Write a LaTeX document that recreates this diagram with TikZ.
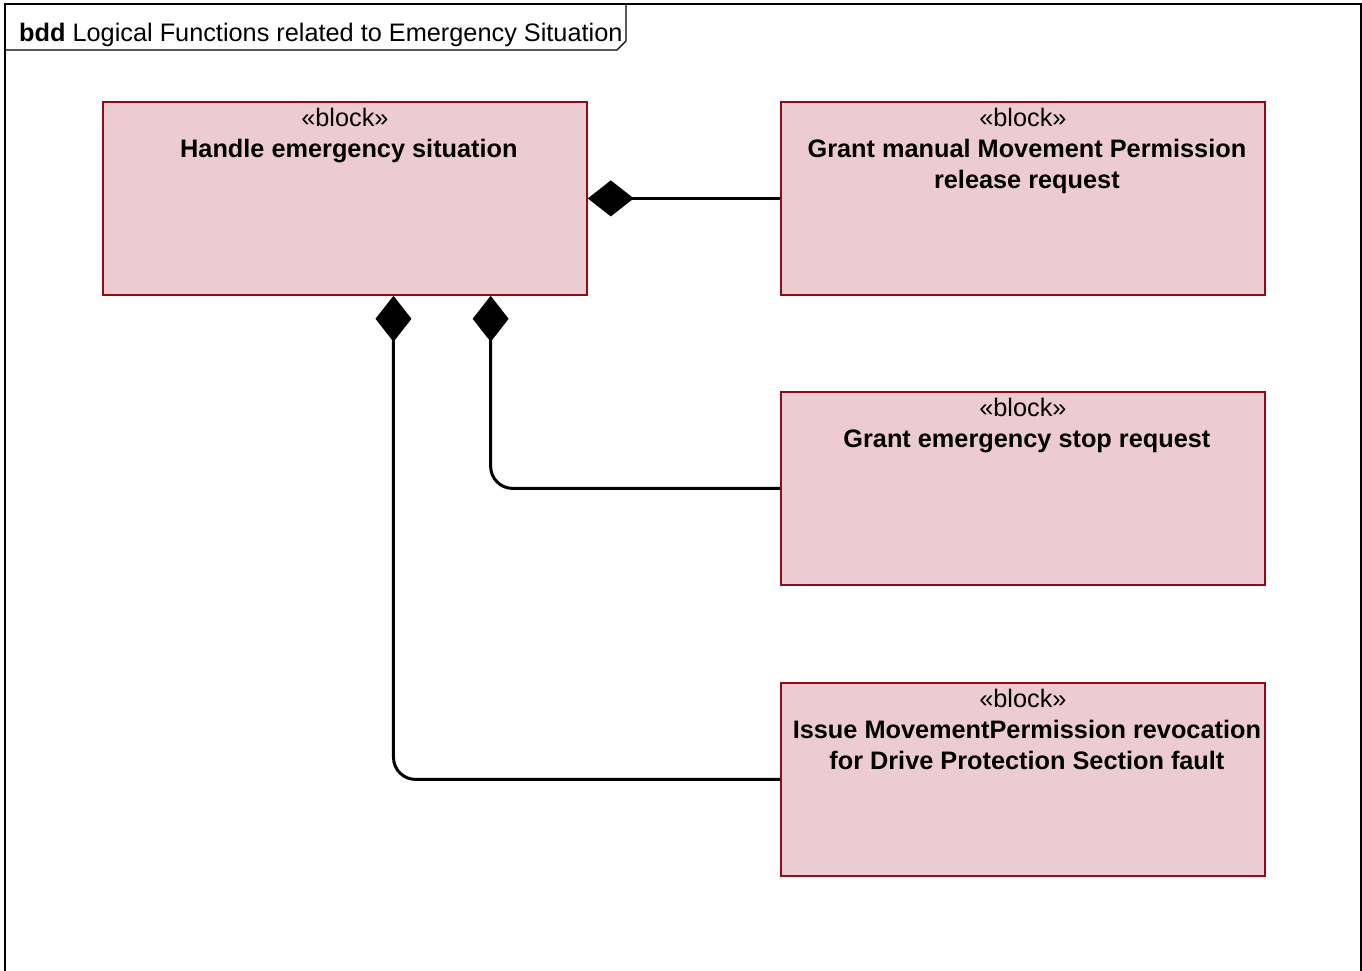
\documentclass[tikz,border=0pt]{standalone}
\usepackage{fontspec}
\setmainfont{Liberation Sans}
\usetikzlibrary{arrows.meta,calc}
\definecolor{blockfill}{RGB}{237,203,210}
\definecolor{blockedge}{RGB}{145,12,18}
\tikzset{
  block/.style={draw=blockedge, line width=1.8pt, fill=blockfill, rectangle,
    minimum width=484pt, minimum height=193pt, inner sep=0pt, anchor=north west},
  stereo/.style={font=\fontsize{25.3}{31}\selectfont, anchor=base, inner sep=0pt},
  bname/.style={font=\fontsize{25.3}{31}\selectfont\bfseries, anchor=base, inner sep=0pt, align=center},
  comp/.style={line width=3pt, rounded corners=22pt, -{Diamond[length=46pt,width=36pt,line width=0pt]}},
  frameline/.style={line width=1.3pt, black}
}
\begin{document}
\begin{tikzpicture}[x=1pt,y=-1pt]
\useasboundingbox (0,0) rectangle (1362,970);
% diagram frame and name tab
\draw[frameline] (5,975) -- (5,4) -- (1361,4) -- (1361,975);
\draw[frameline] (5,50) -- (617,50) -- (626,41) -- (626,4);
\node[anchor=base west, inner sep=0pt, font=\fontsize{25.3}{30}\selectfont] (title) at (19,41)
  {\textbf{bdd} Logical Functions related to Emergency Situation};
% blocks
\node[block] (handle) at (102,101) {};
\node[block] (manual) at (780,101) {};
\node[block] (estop) at (780,391) {};
\node[block] (issue) at (780,682) {};
% block texts (base anchor of a two-line name sits on its last line)
\node[stereo] (handleS) at ($(handle.north)+(0,25)$) {«block»};
\node[bname] (handleN) at ($(handle.north)+(4,56)$) {Handle emergency situation};
\node[stereo] (manualS) at ($(manual.north)+(0,25)$) {«block»};
\node[bname] (manualN) at ($(manual.north)+(4,87)$) {Grant manual Movement Permission\\release request};
\node[stereo] (estopS) at ($(estop.north)+(0,25)$) {«block»};
\node[bname] (estopN) at ($(estop.north)+(4,56)$) {Grant emergency stop request};
\node[stereo] (issueS) at ($(issue.north)+(0,25)$) {«block»};
\node[bname] (issueN) at ($(issue.north)+(4,87)$) {Issue MovementPermission revocation\\for Drive Protection Section fault};
% composition connectors
\draw[comp] (manual.west) -- (handle.east |- manual.west);
\draw[comp] (estop.west) -| ($(handle.south west)!0.8!(handle.south east)$);
\draw[comp] (issue.west) -| ($(handle.south west)!0.6!(handle.south east)$);
\end{tikzpicture}
\end{document}
